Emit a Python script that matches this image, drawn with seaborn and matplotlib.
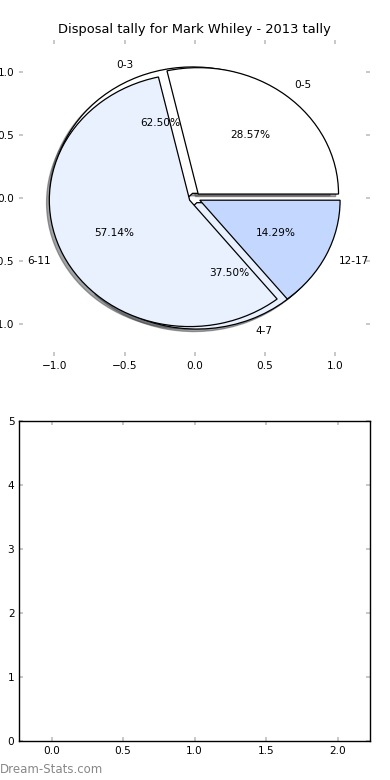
import matplotlib
matplotlib.use("Agg")
import matplotlib.pyplot as plt
import seaborn as sns

# ---- data ----
title = "Disposal tally for Mark Whiley - 2013 tally"
pie_a_labels = ["0-3", "4-7"]
pie_a_values = [5, 3]
pie_b_labels = ["0-5", "6-11", "12-17"]
pie_b_values = [2, 4, 1]
wedge_colors = ["#ffffff", "#eaf1fe", "#c4d8ff"]
bar_positions = [0, 1, 2]
bar_heights = [0, 0, 0]
watermark = "Dream-Stats.com"

sns.set_style("white")
plt.rcParams["font.family"] = ["DejaVu Sans"]
plt.rcParams["text.color"] = "black"
plt.rcParams["axes.labelcolor"] = "black"

fig = plt.figure(figsize=(3.9, 7.8), dpi=100)
ax1 = fig.add_axes([0.0495, 0.5436, 0.8995, 0.4051])
ax2 = fig.add_axes([0.0495, 0.0504, 0.8995, 0.4099])

fs = 7.6
tick_kw = dict(direction="in", length=2.8, width=1.3, color="#c4c4c4",
               labelsize=fs, labelcolor="black", pad=3.5,
               top=True, right=True, bottom=True, left=True,
               labeltop=False, labelright=False)

# shadow offset given in points; 0.0144 pt ~ 0.02 data units here
shadow_kw = dict(ox=-0.0144, oy=-0.0144)

common = dict(autopct="%.2f%%", shadow=shadow_kw, startangle=0, counterclock=True,
              wedgeprops=dict(edgecolor="black", linewidth=0.9),
              textprops=dict(fontsize=fs, color="black"), frame=True)

ax1.pie(pie_a_values, labels=pie_a_labels, colors=wedge_colors[:len(pie_a_values)],
        explode=[0.04] * len(pie_a_values), **common)
ax1.pie(pie_b_values, labels=pie_b_labels, colors=wedge_colors[:len(pie_b_values)],
        explode=[0.04] * len(pie_b_values), **common)
ax1.set_aspect("auto")
ax1.set_xlim(-1.25, 1.25)
ax1.set_ylim(-1.25, 1.25)
ax1.set_xticks([-1.0, -0.5, 0.0, 0.5, 1.0])
ax1.set_yticks([-1.0, -0.5, 0.0, 0.5, 1.0])
ax1.set_frame_on(False)
ax1.tick_params(**tick_kw)
ax1.set_title(title, fontsize=9.4, pad=5, color="black")

sns.barplot(x=bar_positions, y=bar_heights, native_scale=True, width=0.45,
            color="#c4d8ff", linewidth=0, ax=ax2)
ax2.set_xlim(bar_positions[0] - 0.225, bar_positions[-1] + 0.225)
ax2.set_ylim(0, 5)
ax2.set_xticks([0.0, 0.5, 1.0, 1.5, 2.0])
ax2.set_yticks([0, 1, 2, 3, 4, 5])
ax2.set_xticklabels(["0.0", "0.5", "1.0", "1.5", "2.0"])
ax2.tick_params(**tick_kw)
for s in ax2.spines.values():
    s.set_visible(True)
    s.set_color("black")
    s.set_linewidth(1.0)
ax2.set_xlabel("")
ax2.set_ylabel("")

fig.text(0.0, 0.0045, watermark, color="#888888", fontsize=8.5, ha="left", va="bottom")

fig.savefig("out.png", dpi=100)
